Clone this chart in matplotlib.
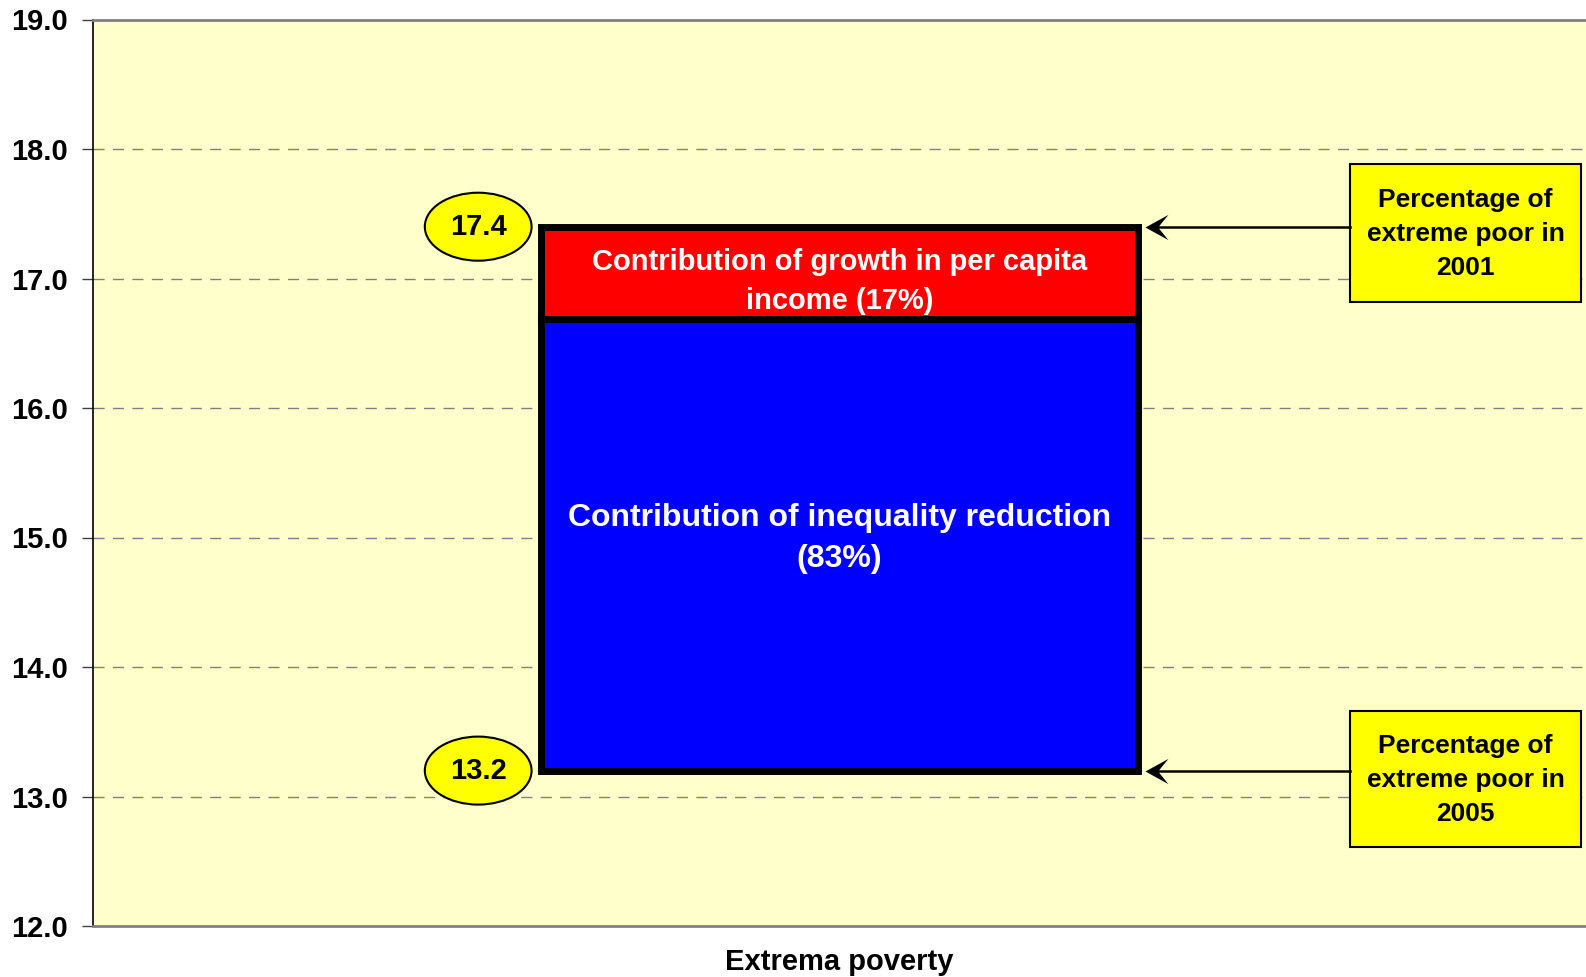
import matplotlib
matplotlib.use("Agg")
import matplotlib.pyplot as plt
from matplotlib.patches import Ellipse, Rectangle
from matplotlib.path import Path

plt.rcParams['font.family'] = ['Liberation Sans', 'DejaVu Sans']
plt.rcParams['font.weight'] = 'bold'

category = "Extrema poverty"
poor_2001 = 17.4
poor_2005 = 13.2
share_growth = 17    # percent of the change
share_inequality = 83
yticks = [12.0, 13.0, 14.0, 15.0, 16.0, 17.0, 18.0, 19.0]

change = poor_2001 - poor_2005
split = poor_2001 - change * share_growth / 100.0

fig = plt.figure(figsize=(15.86, 9.77), dpi=100)
ax = fig.add_axes([93 / 1586, 1 - 926 / 977, 1 - 93 / 1586, (926 - 19.5) / 977])
ax.set_facecolor('#FFFFCC')
ax.set_xlim(-1, 1)
ax.set_ylim(12, 19)

for t in yticks[1:-1]:
    ax.axhline(t, color='#808080', lw=1, ls=(0, (8, 6)), zorder=1)

# stacked bar: inequality part at the bottom, growth part on top
ax.bar([0], [split - poor_2005], bottom=[poor_2005], width=0.8,
       color='#0000FF', edgecolor='black', lw=5, zorder=3)
ax.bar([0], [poor_2001 - split], bottom=[split], width=0.8,
       color='#FF0000', edgecolor='black', lw=5, zorder=3)

ax.text(0, (poor_2001 + split) / 2 - 0.065,
        "Contribution of growth in per capita\nincome (%d%%)" % share_growth,
        ha='center', va='center', color='white', fontsize=21,
        fontweight='bold', linespacing=1.49, zorder=5)
ax.text(0, (split + poor_2005) / 2 + 0.05,
        "Contribution of inequality reduction\n(%d%%)" % share_inequality,
        ha='center', va='center', color='white', fontsize=23,
        fontweight='bold', linespacing=1.5, zorder=5)

# value ellipses
for v in [poor_2001, poor_2005]:
    ax.add_patch(Ellipse((-0.484, v), 0.143, 0.525, facecolor='#FFFF00',
                         edgecolor='black', lw=1.5, zorder=6))
    ax.text(-0.484, v, "%.1f" % v, ha='center', va='center', fontsize=21,
            fontweight='bold', zorder=7)

# notched arrow head, tip at the origin
head = Path([(0, 0), (1, 0.55), (0.55, 0), (1, -0.55), (0, 0)],
            [Path.MOVETO, Path.LINETO, Path.LINETO, Path.LINETO, Path.CLOSEPOLY])

# labelled boxes with arrows
boxes = [(poor_2001, 16.819, 17.884, "Percentage of\nextreme poor in\n2001"),
         (poor_2005, 12.610, 13.660, "Percentage of\nextreme poor in\n2005")]
for v, y0, y1, label in boxes:
    ax.add_patch(Rectangle((0.684, y0), 0.309, y1 - y0, facecolor='#FFFF00',
                           edgecolor='black', lw=1.5, zorder=6, clip_on=False))
    ax.text(0.8385, (y0 + y1) / 2 - 0.01, label, ha='center', va='center',
            fontsize=19, fontweight='bold', linespacing=1.52, zorder=7)
    ax.plot([0.415, 0.684], [v, v], color='black', lw=1.8, zorder=6)
    ax.plot([0.409], [v], marker=head, markersize=33, color='black',
            markeredgewidth=0, zorder=6)

ax.set_yticks(yticks)
ax.set_yticklabels(["%.1f" % t for t in yticks], fontsize=21, fontweight='bold')
ax.set_xticks([])
ax.set_xlabel(category, fontsize=21, fontweight='bold', labelpad=16)
ax.tick_params(axis='y', length=8, width=1, color='#404040', pad=10)

ax.spines['left'].set_color('black')
ax.spines['left'].set_linewidth(1.2)
ax.spines['top'].set_color('#808080')
ax.spines['top'].set_linewidth(2)
ax.spines['bottom'].set_color('#808080')
ax.spines['bottom'].set_linewidth(2)
ax.spines['right'].set_visible(False)

fig.savefig("out.png", dpi=100, facecolor='white')
